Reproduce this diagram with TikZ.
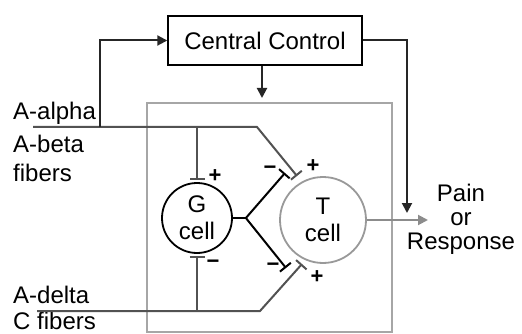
\documentclass[tikz,border=0pt]{standalone}
\usepackage{fontspec}
\setmainfont{Liberation Sans}
\usetikzlibrary{arrows.meta,calc,positioning}

\begin{document}
\begin{tikzpicture}[x=1pt,y=-1pt,>={Triangle[length=10pt,width=10pt]},
  every node/.style={font=\fontsize{24}{27}\selectfont},
  fiber/.style={draw=black!68,line width=2pt},
  ctrl/.style={draw=black!85,line width=2pt,->},
  inhib/.style={draw=black,line width=2pt},
  sign/.style={font=\fontsize{22}{22}\selectfont\bfseries,inner sep=0pt},
  cellshape/.style={circle,draw,line width=1.8pt,align=center,inner sep=0pt}]
\useasboundingbox (0,0) rectangle (522,334);
% spinal box
\draw[black!35,line width=1.5pt] (147,103) rectangle (392,332);
% cells and control
\node[draw,line width=1.4pt,minimum width=194pt,minimum height=49pt] (central) at (265,40.5) {Central Control};
\node[cellshape,minimum size=70pt] (gcell) at (197,218) {G\\cell};
\node[cellshape,draw=black!40,minimum size=86pt] (tcell) at (323,220) {T\\cell};
\node[align=center,font=\fontsize{24}{24}\selectfont] (pain) at (461,219) {Pain\\or\\Response};
% fibre labels
\node[anchor=base west,inner sep=0pt] (alphalbl) at (13,120) {A-alpha};
\node[anchor=base west,inner sep=0pt] (betalbl) at (13,153) {A-beta};
\node[anchor=base west,inner sep=0pt] (fiberslbl) at (13,181) {fibers};
\node[anchor=base west,inner sep=0pt] (deltalbl) at (13,303) {A-delta};
\node[anchor=base west,inner sep=0pt] (clbl) at (13,329) {C fibers};
\coordinate (alphain) at (33,127); \coordinate (deltain) at (37,311);
\coordinate (synAU) at (297,176); \coordinate (synAD) at (302,264);
\coordinate (synGU) at (285,173); \coordinate (synGD) at (286,268);
\coordinate (tap) at (100,127); \coordinate (inbox) at (262,98);
\coordinate (ctrlin) at (407,213); \coordinate (pout) at (428,220);
% fibres
\draw[fiber,-{Bar[width=14pt]}] (alphain) -- (257,127) -- (synAU);
\draw[fiber,-{Bar[width=14pt]}] (deltain) -- (260,311) -- (synAD);
\draw[fiber,-{Bar[width=15pt]}] (gcell.north |- alphain) -- ([yshift=2pt]gcell.north);
\draw[fiber,-{Bar[width=15pt]}] (gcell.south |- deltain) -- ([yshift=-2pt]gcell.south);
% G cell output
\draw[inhib] (gcell.east) -- ++(13,0) coordinate (gsplit);
\draw[inhib,-{Bar[width=14pt]}] (gsplit) -- (synGU);
\draw[inhib,-{Bar[width=14pt]}] (gsplit) -- (synGD);
% central control
\draw[ctrl] (tap) |- (central.west);
\draw[ctrl] (inbox |- central.south) -- (inbox);
\draw[ctrl] (central.east) -| (ctrlin);
\draw[draw=black!45,line width=2pt,->] (tcell.east) -- (pout);
% signs
\node[sign] (plusGU) at (215,176) {+};
\node[sign] (minusGD) at (213,264) {−};
\node[sign] (minusU) at (270,170) {−};
\node[sign] (minusD) at (273,267) {−};
\node[sign] (plusU) at (313,166) {+};
\node[sign] (plusD) at (317,277) {+};
\end{tikzpicture}
\end{document}
